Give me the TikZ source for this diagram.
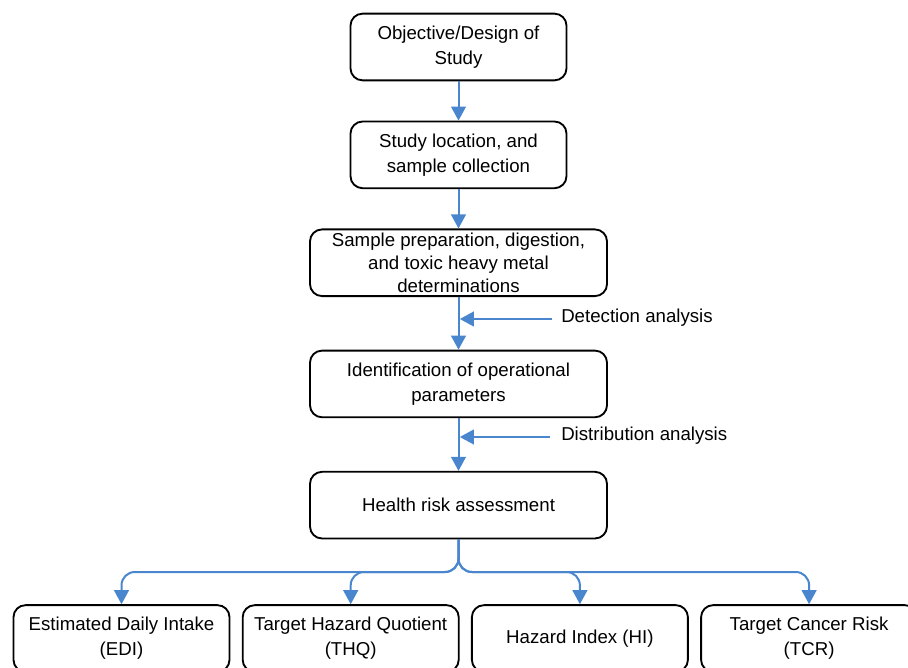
\documentclass[tikz,border=0pt]{standalone}
\usepackage{fontspec}
\setmainfont{Liberation Sans}
\usepackage{xcolor}
\usetikzlibrary{arrows.meta,positioning}
\definecolor{flowblue}{RGB}{74,134,206}

\begin{document}
\begin{tikzpicture}[x=0.75pt, y=-0.75pt, node distance=29.5pt,
    main/.style = {draw, rounded corners=9pt, line width=1.4pt, align=center, minimum width=162pt, minimum height=50pt, inner sep=1pt, font=\fontsize{14}{18.75}\selectfont},
    wide/.style = {main, minimum width=222.75pt},
    flow/.style = {draw=flowblue, line width=1.5pt, -{Triangle[width=11pt,length=10.5pt]}},
    note/.style = {inner sep=0pt, font=\fontsize{14}{17}\selectfont}]
      \useasboundingbox (0,0) rectangle (908,668);
      \clip (0,0) rectangle (908,668);
      \node[main] (1) at (458.5,47) {Objective/Design of\\Study};
      \node[main] (2) [below=of 1] {Study location, and\\sample collection};
      \node[wide, font=\fontsize{14}{17}\selectfont] (3) [below=of 2] {Sample preparation, digestion,\\and toxic heavy metal\\determinations};
      \node[wide] (4) [below=39.5pt of 3] {Identification of operational\\parameters};
      \node[wide] (5) [below=39.5pt of 4] {Health risk assessment};
      \node[main] (6) at (121.5,638.5) {Estimated Daily Intake\\(EDI)};
      \node[main] (7) [right=8.5pt of 6] {Target Hazard Quotient\\(THQ)};
      \node[main] (8) [right=8.5pt of 7] {Hazard Index (HI)};
      \node[main] (9) [right=8.5pt of 8] {Target Cancer Risk\\(TCR)};

      % side inputs
      \coordinate (d) at (552,319);
      \coordinate (e) at (550,437);
      \node[note, anchor=west] (dl) at (561,318) {Detection analysis};
      \node[note, anchor=west] (el) at (561,436) {Distribution analysis};

      \draw[flow] (1) -- (2);
      \draw[flow] (2) -- (3);
      \draw[flow] (3) -- (4);
      \draw[flow] (4) -- (5);
      \draw[flow] (d) -- ([xshift=1pt]d -| 3.south);
      \draw[flow] (e) -- ([xshift=1pt]e -| 4.south);

      % branches to the four indices
      \coordinate (b) at (458.5,572);
      \foreach \n in {6,...,9}
        \draw[flow, rounded corners=10pt] (5.south) -- (b) -| (\n.north);
    \end{tikzpicture}
\end{document}
